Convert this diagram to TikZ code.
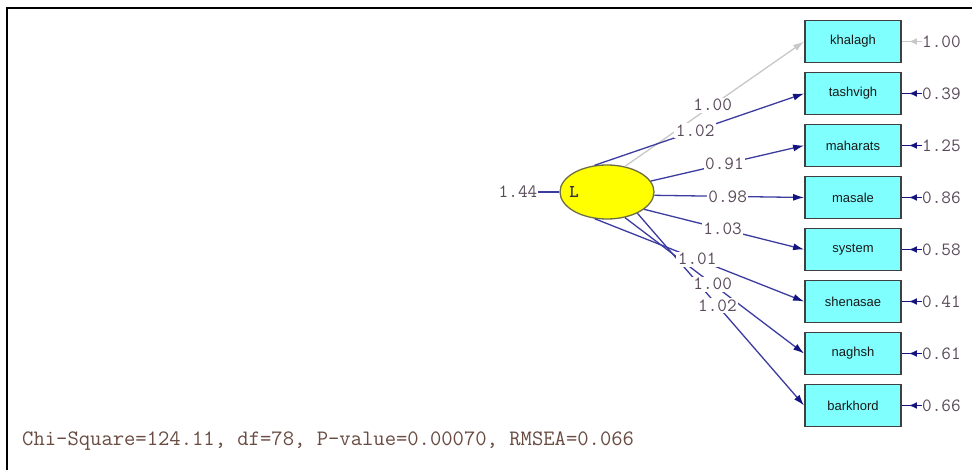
\documentclass[tikz,border=0pt]{standalone}
\usepackage{fontspec}
\setmainfont{Liberation Sans}
\usetikzlibrary{arrows.meta,shapes.geometric}
\definecolor{boxfill}{RGB}{128,255,255}
\definecolor{boxdraw}{RGB}{64,64,64}
\definecolor{latfill}{RGB}{255,255,0}
\definecolor{latdraw}{RGB}{110,110,70}
\definecolor{pathcol}{RGB}{60,60,160}
\definecolor{headcol}{RGB}{20,20,128}
\definecolor{graycol}{RGB}{200,200,200}
\definecolor{numcol}{RGB}{90,75,90}
\definecolor{fitcol}{RGB}{105,75,65}
\begin{document}
\begin{tikzpicture}[x=1pt,y=-1pt,
  obsbox/.style={draw=boxdraw,fill=boxfill,line width=1.8,minimum width=96,minimum height=42,inner sep=0,text=black!90,font=\fontsize{13}{13}\selectfont},
  latent/.style={ellipse,draw=latdraw,fill=latfill,line width=1.3,minimum width=94,minimum height=54,inner sep=0},
  numtxt/.style={font=\ttfamily\fontsize{18.7}{19}\selectfont,text=numcol},
  lab/.style={numtxt,fill=white,inner sep=1.5},
  errtxt/.style={numtxt,anchor=west,inner sep=0},
  loading/.style={draw=pathcol,line width=1.3,-{Latex[length=11,width=7,color=headcol]}},
  loadgray/.style={draw=graycol,line width=1.3,-{Latex[length=11,width=7,color=graycol]}},
  errline/.style={draw=headcol,line width=1.8},
  errhead/.style={draw=headcol,line width=1.8,shorten >=7,-{Latex[length=8,width=7]}},
  errgline/.style={draw=graycol,line width=1.8},
  errghead/.style={draw=graycol,line width=1.8,shorten >=7,-{Latex[length=8,width=7]}}
]
\useasboundingbox (0,0) rectangle (972,470);
\fill[white] (0,0) rectangle (972,470);
% frame
\draw[line width=2.2,black] (7,470) -- (7,8) -- (972,8);

% latent
\node[latent] (L) at (607,192) {};
\node[font=\ttfamily\bfseries\fontsize{18}{18}\selectfont,text=black!80,inner sep=0] (Llab) at (574,192) {L};
\node[numtxt,inner sep=1] (var) at (518,192) {1.44};
\draw[pathcol,line width=1.3] (var) -- (L.west);

% observed
\node[obsbox] (khalagh)  at (853,41.5)  {khalagh};
\node[obsbox] (tashvigh) at (853,93.5)  {tashvigh};
\node[obsbox] (maharats) at (853,145.5) {maharats};
\node[obsbox] (masale)   at (853,197.5) {masale};
\node[obsbox] (system)   at (853,249.5) {system};
\node[obsbox] (shenasae) at (853,301.5) {shenasae};
\node[obsbox] (naghsh)   at (853,353.5) {naghsh};
\node[obsbox] (barkhord) at (853,405.5) {barkhord};

% loadings
\draw[loadgray] (L.55)  -- coordinate[pos=.49] (c1) (khalagh.west);
\draw[loading]  (L.115) -- coordinate[pos=.48] (c2) (tashvigh.west);
\draw[loading]  (L.14)  -- coordinate[pos=.48] (c3) (maharats.west);
\draw[loading]  (L.-4)  -- coordinate[pos=.49] (c4) (masale.west);
\draw[loading]  (L.-25) -- coordinate[pos=.49] (c5) (system.west);
\draw[loading]  (L.-115) -- coordinate[pos=.49] (c6) (shenasae.west);
\draw[loading]  (L.-55) -- coordinate[pos=.49] (c7) (naghsh.west);
\draw[loading]  (L.-35) -- coordinate[pos=.48] (c8) (barkhord.west);

\node[lab] (l1) at (c1) {1.00};
\node[lab] (l2) at (c2) {1.02};
\node[lab] (l3) at (c3) {0.91};
\node[lab] (l4) at (c4) {0.98};
\node[lab] (l5) at (c5) {1.03};
\node[lab] (l6) at (c6) {1.01};
\node[lab] (l7) at (c7) {1.00};
\node[lab] (l8) at (c8) {1.02};

% error variances
\node[errtxt] (e1) at (922,41.5)  {1.00};
\node[errtxt] (e2) at (922,93.5)  {0.39};
\node[errtxt] (e3) at (922,145.5) {1.25};
\node[errtxt] (e4) at (922,197.5) {0.86};
\node[errtxt] (e5) at (922,249.5) {0.58};
\node[errtxt] (e6) at (922,301.5) {0.41};
\node[errtxt] (e7) at (922,353.5) {0.61};
\node[errtxt] (e8) at (922,405.5) {0.66};

\draw[errgline] (khalagh.east) -- (e1.west);
\draw[errghead] (e1.west) -- (khalagh.east);
\foreach \b/\e in {tashvigh/e2,maharats/e3,masale/e4,system/e5,shenasae/e6,naghsh/e7,barkhord/e8}{
  \draw[errline] (\b.east) -- (\e.west);
  \draw[errhead] (\e.west) -- (\b.east);
}

% fit
\node[anchor=west,inner sep=0,font=\ttfamily\fontsize{22}{22}\selectfont,text=fitcol] (fit) at (22,441)
  {Chi-Square=124.11, df=78, P-value=0.00070, RMSEA=0.066};
\end{tikzpicture}
\end{document}
